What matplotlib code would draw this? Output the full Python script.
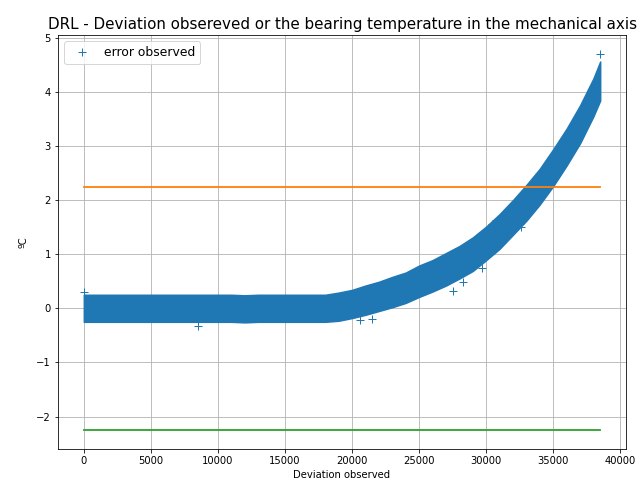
import matplotlib
matplotlib.use("Agg")
import matplotlib.pyplot as plt
import numpy as np

# band of observed error (centre and half width)
x_obs = [0, 1000, 2000, 3000, 4000, 5000, 6000, 7000, 8000, 9000, 10000,
         11000, 12000, 13000, 14000, 15000, 16000, 17000, 18000,
         19000, 20000, 21000, 22000, 23000, 24000, 25000, 26000, 27000,
         28000, 29000, 30000, 31000, 32000, 33000, 34000, 35000, 36000,
         37000, 38000, 38500]
y_mid = [0.0, 0.0, 0.0, 0.0, 0.0, 0.0, 0.0, 0.0, 0.0, 0.0, 0.0,
         0.0, -0.01, 0.0, 0.0, 0.0, 0.0, 0.0, 0.0,
         0.03, 0.08, 0.15, 0.22, 0.30, 0.38, 0.50, 0.60, 0.72,
         0.85, 1.00, 1.20, 1.42, 1.68, 1.95, 2.25, 2.60, 2.98,
         3.40, 3.90, 4.20]
y_half = [0.25, 0.25, 0.25, 0.25, 0.25, 0.25, 0.25, 0.25, 0.25, 0.25, 0.25,
          0.25, 0.25, 0.25, 0.25, 0.25, 0.25, 0.25, 0.25,
          0.26, 0.26, 0.27, 0.27, 0.28, 0.28, 0.29, 0.29, 0.30,
          0.30, 0.31, 0.31, 0.32, 0.32, 0.33, 0.33, 0.34, 0.34,
          0.35, 0.35, 0.36]

# isolated observations visible outside the band
x_out = [0, 8500, 20600, 21500, 27500, 28300, 29700, 30400, 32600, 38500]
y_out = [0.30, -0.33, -0.22, -0.20, 0.32, 0.48, 0.75, 1.55, 1.50, 4.70]

limit = 2.25
x_limit = [0, 38500]

fig = plt.figure(figsize=(641 / 72, 491 / 72), dpi=72)
ax = fig.add_axes([58 / 641, 42 / 491, 568 / 641, 414 / 491])

x_obs = np.array(x_obs)
y_mid = np.array(y_mid)
y_half = np.array(y_half)
ax.fill_between(x_obs, y_mid - y_half, y_mid + y_half, color='#1f77b4', lw=1.5, zorder=2)
ax.plot(x_out, y_out, '+', color='#1f77b4', markersize=8, label='error observed', zorder=3)
ax.plot(x_limit, [limit, limit], color='#ff7f0e', lw=1.8)
ax.plot(x_limit, [-limit, -limit], color='#2ca02c', lw=1.8)

ax.set_xlim(-1925, 40425)
ax.set_ylim(-2.6, 5.05)
ax.set_title("DRL - Deviation obsereved or the bearing temperature in the mechanical axis", fontsize=15.1)
ax.set_xlabel('Deviation observed')
ax.set_ylabel('ºC', labelpad=8)
ax.grid(True)
ax.legend(loc='upper left', fontsize=12.4)

fig.savefig('out.png', dpi=72)
